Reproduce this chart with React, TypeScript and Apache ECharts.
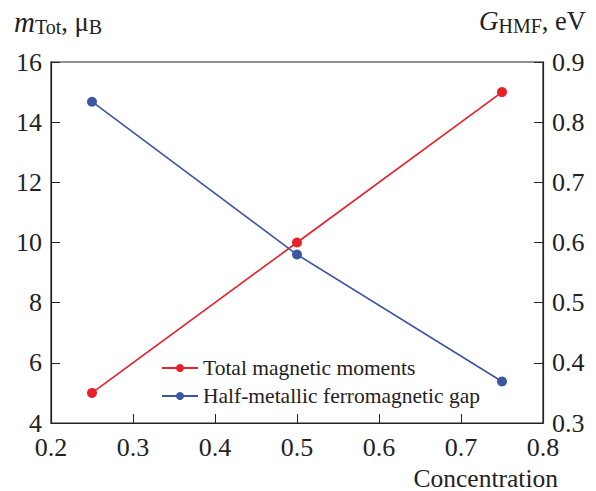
import React, { useEffect, useRef } from "react";
import * as echarts from "echarts";

const concentration = [0.25, 0.5, 0.75];
const totalMoments = [5, 10, 15];
const hmfGap = [0.834, 0.58, 0.369];
const seriesNames = ["Total magnetic moments", "Half-metallic ferromagnetic gap"];

const FONT = "'Liberation Serif', 'DejaVu Serif', serif";

export default function App() {
  const ref = useRef<HTMLDivElement>(null);
  useEffect(() => {
    if (!ref.current) return;
    const chart = echarts.init(ref.current, null, { renderer: "svg" });
    const axisText = { color: "#222", fontFamily: FONT, fontSize: 26, lineHeight: 20 };
    chart.setOption({
      animation: false,
      backgroundColor: "#fff",
      grid: {
        left: 51, right: 53, top: 62, bottom: 68,
        outerBoundsMode: "none", containLabel: false,
        show: true, borderColor: "#222", borderWidth: 1.2, backgroundColor: "transparent",
      },
      legend: {
        orient: "vertical",
        left: 156,
        top: 352,
        itemWidth: 36,
        itemHeight: 10,
        itemGap: 6,
        textStyle: { color: "#222", fontFamily: FONT, fontSize: 21.5 },
        data: seriesNames,
      },
      xAxis: {
        type: "value",
        min: 0.2,
        max: 0.8,
        interval: 0.1,
        axisLine: { lineStyle: { color: "#222", width: 1.2 } },
        axisTick: { inside: true, length: 9, lineStyle: { color: "#222" } },
        axisLabel: { ...axisText, margin: 14, formatter: (v: number) => v.toFixed(1) },
        splitLine: { show: false },
      },
      yAxis: [
        {
          type: "value",
          min: 4,
          max: 16,
          interval: 2,
          axisLine: { show: true, lineStyle: { color: "#222", width: 1.2 } },
          axisTick: { show: true, inside: true, length: 9, lineStyle: { color: "#222" } },
          axisLabel: { ...axisText, margin: 9 },
          splitLine: { show: false },
        },
        {
          type: "value",
          min: 0.3,
          max: 0.9,
          interval: 0.1,
          position: "right",
          axisLine: { show: true, lineStyle: { color: "#222", width: 1.2 } },
          axisTick: { show: true, inside: true, length: 9, lineStyle: { color: "#222" } },
          axisLabel: { ...axisText, margin: 9, formatter: (v: number) => v.toFixed(1) },
          splitLine: { show: false },
        },
      ],
      series: [
        {
          name: seriesNames[0],
          type: "line",
          yAxisIndex: 0,
          data: concentration.map((c, i) => [c, totalMoments[i]]),
          symbol: "circle",
          symbolSize: 10,
          itemStyle: { color: "#e8202a" },
          lineStyle: { color: "#e8202a", width: 1.6 },
        },
        {
          name: seriesNames[1],
          type: "line",
          yAxisIndex: 1,
          data: concentration.map((c, i) => [c, hmfGap[i]]),
          symbol: "circle",
          symbolSize: 10,
          itemStyle: { color: "#3c55a5" },
          lineStyle: { color: "#3c55a5", width: 1.6 },
        },
      ],
      graphic: [
        {
          type: "text",
          left: 14,
          top: 7,
          style: {
            text: "{i|m}{s|Tot}{n|, μ}{s|B}",
            rich: {
              i: { fontFamily: FONT, fontSize: 29, fontStyle: "italic", fill: "#222" },
              s: { fontFamily: FONT, fontSize: 20, fill: "#222", padding: [10, 0, 0, 0] },
              n: { fontFamily: FONT, fontSize: 26.5, fill: "#222" },
            },
          },
        },
        {
          type: "text",
          right: 10,
          top: 7,
          style: {
            text: "{i|G}{s|HMF}{n|, eV}",
            rich: {
              i: { fontFamily: FONT, fontSize: 27, fontStyle: "italic", fill: "#222" },
              s: { fontFamily: FONT, fontSize: 20, fill: "#222", padding: [10, 0, 0, 0] },
              n: { fontFamily: FONT, fontSize: 26.5, fill: "#222" },
            },
          },
        },
        {
          type: "text",
          right: 38,
          top: 465,
          style: {
            text: "Concentration",
            fontFamily: FONT,
            fontSize: 25.5,
            lineHeight: 22,
            fill: "#222",
          },
        },
      ],
    });
    return () => chart.dispose();
  }, []);
  return <div ref={ref} style={{ width: 596, height: 491, position: "absolute", left: 0, top: 0 }} />;
}
